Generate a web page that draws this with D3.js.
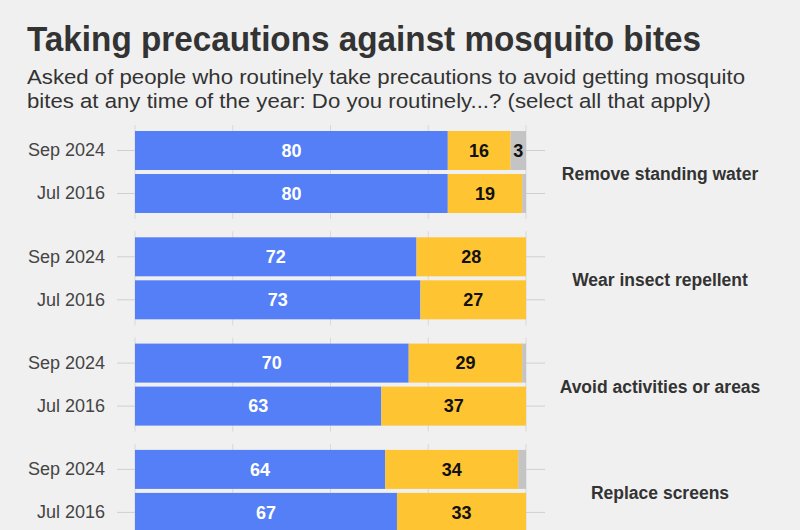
<!DOCTYPE html>
<html>
<head>
<meta charset="utf-8">
<script src="https://cdn.jsdelivr.net/npm/d3@7"></script>
<style>
  html, body { margin: 0; padding: 0; background: #f0f0f0; }
  svg { display: block; font-family: "Liberation Sans", Arial, Helvetica, sans-serif; }
</style>
</head>
<body>
<svg id="chart" width="800" height="530"></svg>
<script>
// ---- data ----
const categories = ["Remove standing water", "Wear insect repellent", "Avoid activities or areas", "Replace screens"];
const periods = ["Sep 2024", "Jul 2016"];
// values per category: [Sep 2024, Jul 2016]
const yesValues = [[80, 80], [72, 73], [70, 63], [64, 67]];
const noValues = [[16, 19], [28, 27], [29, 37], [34, 33]];
const noAnswerValues = [[3, 1], [0, 0], [1, 0], [2, 0]];
const xTicks = [0, 25, 50, 75, 100];

const titleText = "Taking precautions against mosquito bites";
const subtitleLines = [
  "Asked of people who routinely take precautions to avoid getting mosquito",
  "bites at any time of the year: Do you routinely...? (select all that apply)"
];

const colors = { yes: "#557ff7", no: "#fec431", na: "#c4c4c4" };

// ---- chart ----
const svg = d3.select("#chart");
svg.append("rect").attr("width", 800).attr("height", 530).attr("fill", "#f0f0f0");

svg.append("text")
  .attr("x", 27).attr("y", 51)
  .attr("font-size", 35).attr("font-weight", "bold").attr("fill", "#333")
  .attr("textLength", 674).attr("lengthAdjust", "spacingAndGlyphs")
  .text(titleText);

svg.selectAll("text.sub").data(subtitleLines).join("text")
  .attr("class", "sub")
  .attr("x", 27).attr("y", (d, i) => 84 + i * 24)
  .attr("font-size", 20.5).attr("fill", "#333")
  .attr("textLength", (d, i) => i === 0 ? 718 : 684)
  .attr("lengthAdjust", "spacingAndGlyphs")
  .text(d => d);

const x = d3.scaleLinear().domain([0, 100]).range([135, 526]);
const yGroup = d3.scaleBand().domain(categories)
  .range([125, 125 + 4 * 106.3 - 12.3]).paddingInner(12.3 / 106.3).paddingOuter(0);
const yBar = d3.scaleBand().domain(periods)
  .range([6, yGroup.bandwidth() - 6]).paddingInner(4 / 43).paddingOuter(0);

const rows = [];
categories.forEach((c, ci) => {
  periods.forEach((p, pi) => {
    rows.push({
      cat: c, period: p,
      yes: yesValues[ci][pi], no: noValues[ci][pi], na: noAnswerValues[ci][pi]
    });
  });
});

const panels = svg.selectAll("g.panel").data(categories).join("g")
  .attr("class", "panel")
  .attr("transform", d => `translate(0,${yGroup(d)})`);

// gridlines
panels.each(function() {
  const g = d3.select(this);
  g.selectAll("line.grid").data(xTicks).join("line")
    .attr("class", "grid")
    .attr("x1", d => x(d)).attr("x2", d => x(d))
    .attr("y1", 0).attr("y2", yGroup.bandwidth())
    .attr("stroke", "#d8d8d8").attr("stroke-width", 1);
});

// y axis (left) and right ticks
panels.each(function() {
  const g = d3.select(this);
  const axL = g.append("g").attr("transform", `translate(${x(0)},0)`)
    .call(d3.axisLeft(yBar).tickSize(18).tickPadding(12));
  axL.select(".domain").remove();
  axL.selectAll(".tick line").attr("stroke", "#cfcfcf");
  axL.selectAll(".tick text").attr("font-size", 18).attr("fill", "#444")
    .attr("font-family", "'Liberation Sans', Arial, sans-serif");
  const axR = g.append("g").attr("transform", `translate(${x(100)},0)`)
    .call(d3.axisRight(yBar).tickSize(19).tickFormat(""));
  axR.select(".domain").remove();
  axR.selectAll(".tick line").attr("stroke", "#cfcfcf");
});

// bars
panels.each(function(cat) {
  const g = d3.select(this);
  const data = rows.filter(r => r.cat === cat);
  const bars = g.selectAll("g.bar").data(data).join("g")
    .attr("class", "bar")
    .attr("transform", d => `translate(0,${yBar(d.period)})`);
  const h = yBar.bandwidth();
  // no answer: remainder to 100
  bars.filter(d => d.na > 0).append("rect")
    .attr("x", d => x(d.yes + d.no)).attr("width", d => x(100) - x(d.yes + d.no))
    .attr("y", 0).attr("height", h).attr("fill", colors.na);
  bars.append("rect")
    .attr("x", x(0)).attr("width", d => x(d.yes) - x(0))
    .attr("y", 0).attr("height", h).attr("fill", colors.yes);
  bars.append("rect")
    .attr("x", d => x(d.yes)).attr("width", d => d.na > 0 ? x(d.yes + d.no) - x(d.yes) : x(100) - x(d.yes))
    .attr("y", 0).attr("height", h).attr("fill", colors.no);
  bars.append("text")
    .attr("x", d => (x(0) + x(d.yes)) / 2).attr("y", h / 2).attr("dy", "0.35em")
    .attr("text-anchor", "middle").attr("font-size", 18).attr("font-weight", "bold")
    .attr("fill", "#fff").text(d => d.yes);
  bars.append("text")
    .attr("x", d => (x(d.yes) + x(d.yes + d.no)) / 2).attr("y", h / 2).attr("dy", "0.35em")
    .attr("text-anchor", "middle").attr("font-size", 18).attr("font-weight", "bold")
    .attr("fill", "#111").text(d => d.no);
  bars.filter(d => d.na >= 3).append("text")
    .attr("x", d => (x(d.yes + d.no) + x(100)) / 2).attr("y", h / 2).attr("dy", "0.35em")
    .attr("text-anchor", "middle").attr("font-size", 18).attr("font-weight", "bold")
    .attr("fill", "#111").text(d => d.na);
});

// category labels on right
panels.append("text")
  .attr("x", 660).attr("y", yGroup.bandwidth() / 2 + 2).attr("dy", "0.35em")
  .attr("text-anchor", "middle").attr("font-size", 17.5).attr("font-weight", "bold")
  .attr("fill", "#333").text(d => d);
</script>
</body>
</html>
